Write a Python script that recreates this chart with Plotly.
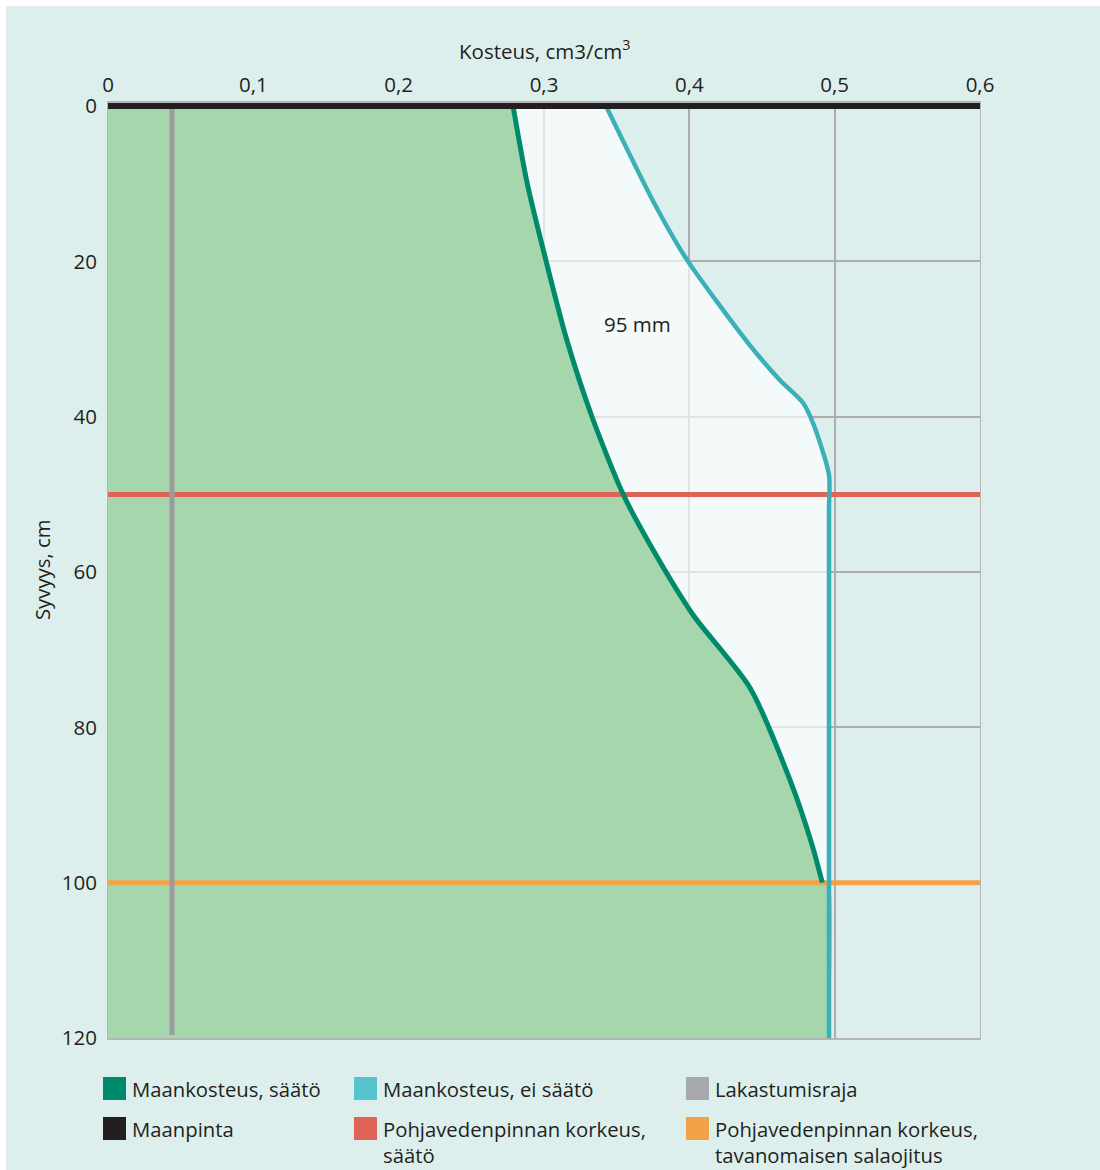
import plotly.graph_objects as go

# ---------------- data ----------------
green_x = [0.2787, 0.2885, 0.3015, 0.3155, 0.333, 0.3545, 0.3743, 0.4025, 0.4417, 0.4693, 0.4844, 0.4915]
green_d = [0, 10, 20, 30, 40, 50, 56.9, 65.5, 74.9, 86.8, 95.1, 100]

blue_x = [0.3427, 0.3764, 0.3984, 0.4417, 0.4624, 0.4782, 0.4855, 0.4961, 0.4961, 0.4961]
blue_d = [0, 12.7, 19.8, 30.8, 35.3, 38.2, 41.0, 47.5, 52, 120]

wilting_x = 0.044
gw_regulated = 50
gw_conventional = 100
x_span = [0, 0.6]
depth_span = [0, 120]

x_ticks = [0, 0.1, 0.2, 0.3, 0.4, 0.5, 0.6]
x_ticktext = ["0", "0,1", "0,2", "0,3", "0,4", "0,5", "0,6"]
y_ticks = [0, 20, 40, 60, 80, 100, 120]

legend_items = [
    ("Maankosteus, säätö", "#008a6c"),
    ("Maankosteus, ei säätö", "#56c3cd"),
    ("Lakastumisraja", "#a7a8ab"),
    ("Maanpinta", "#231f20"),
    ("Pohjavedenpinnan korkeus,<br>säätö", "#e06455"),
    ("Pohjavedenpinnan korkeus,<br>tavanomaisen salaojitus", "#f4a248"),
]

# ---------------- styles ----------------
FONT = "Open Sans"
TXT = "#231f20"
MINT = "#ddefec"
W, H = 1100, 1170
L, R, T, B = 108, 120, 103, 132
PW, PH = W - L - R, H - T - B
SMOOTH = 0.7

def px_x(px):
    return (px - L) / PW

def px_y(py):
    return (H - B - py) / PH

fig = go.Figure()

# white area (between curves): blue curve filled to x=0, translucent white
fig.add_trace(go.Scatter(x=blue_x, y=blue_d, mode="lines",
                         line=dict(width=0, color="rgba(0,0,0,0)", shape="spline", smoothing=SMOOTH),
                         fill="tozerox", fillcolor="rgba(255,255,255,0.66)", showlegend=False, hoverinfo="skip"))

# green area: green curve until 100 cm, then follows the blue line down to 120 cm
fill_x = green_x + [blue_x[-1], blue_x[-1]]
fill_d = green_d + [green_d[-1], depth_span[1]]
fig.add_trace(go.Scatter(x=fill_x, y=fill_d, mode="lines",
                         line=dict(width=0, color="rgba(0,0,0,0)", shape="spline", smoothing=SMOOTH),
                         fill="tozerox", fillcolor="#a6d6ac", showlegend=False, hoverinfo="skip"))

# ground-water lines
fig.add_trace(go.Scatter(x=x_span, y=[gw_regulated] * 2, mode="lines",
                         line=dict(color="#e06455", width=5), showlegend=False, hoverinfo="skip"))
fig.add_trace(go.Scatter(x=x_span, y=[gw_conventional] * 2, mode="lines",
                         line=dict(color="#f4a248", width=5), showlegend=False, hoverinfo="skip"))

# moisture lines
fig.add_trace(go.Scatter(x=blue_x, y=blue_d, mode="lines",
                         line=dict(color="#3bb0b8", width=4.5, shape="spline", smoothing=SMOOTH),
                         showlegend=False, hoverinfo="skip"))
fig.add_trace(go.Scatter(x=green_x, y=green_d, mode="lines",
                         line=dict(color="#008a6c", width=5, shape="spline", smoothing=SMOOTH),
                         showlegend=False, hoverinfo="skip"))

# wilting point
fig.add_trace(go.Scatter(x=[wilting_x] * 2, y=[0, 119.6], mode="lines",
                         line=dict(color="#9b9b9f", width=5), showlegend=False, hoverinfo="skip"))

# ground surface
fig.add_trace(go.Scatter(x=x_span, y=[0, 0], mode="lines",
                         line=dict(color="#231f20", width=6), showlegend=False, hoverinfo="skip"))

shapes = [
    dict(type="rect", xref="paper", yref="paper", x0=px_x(6), x1=px_x(W + 5), y0=px_y(H + 5), y1=px_y(6),
         fillcolor=MINT, line=dict(width=0), layer="below"),
]
annotations = [
    dict(text="Kosteus, cm3/cm<sup>3</sup>", xref="paper", yref="paper", x=0.5, y=px_y(50),
         showarrow=False, font=dict(family=FONT, size=20.5, color=TXT), xanchor="center", yanchor="middle"),
    dict(text="Syvyys, cm", xref="paper", yref="paper", x=px_x(42), y=px_y(570), textangle=-90,
         showarrow=False, font=dict(family=FONT, size=20.3, color=TXT), xanchor="center", yanchor="middle"),
    dict(text="95 mm", x=0.364, y=28.1, xref="x", yref="y", showarrow=False,
         font=dict(family=FONT, size=20.5, color=TXT)),
]

col_x = [103, 354, 686]
row_y = [1088.5, 1128.5]
for i, (label, color) in enumerate(legend_items):
    cx = col_x[i % 3]
    cy = row_y[i // 3]
    shapes.append(dict(type="rect", xref="paper", yref="paper", x0=px_x(cx), x1=px_x(cx + 23),
                       y0=px_y(cy + 11.5), y1=px_y(cy - 11.5), fillcolor=color, line=dict(width=0)))
    annotations.append(dict(text=label, xref="paper", yref="paper", x=px_x(cx + 27), y=px_y(cy - 16),
                            xanchor="left", yanchor="top", align="left", showarrow=False,
                            font=dict(family=FONT, size=20.3, color=TXT)))

fig.update_layout(
    width=W, height=H,
    margin=dict(l=L, r=R, t=T, b=B, pad=0),
    paper_bgcolor="white",
    plot_bgcolor=MINT,
    separators=", ",
    font=dict(family=FONT, color=TXT, size=18),
    shapes=shapes,
    annotations=annotations,
    showlegend=False,
    xaxis=dict(range=x_span, side="top", tickvals=x_ticks, ticktext=x_ticktext,
               showgrid=True, gridcolor="#adadad", gridwidth=1.5, zeroline=False,
               showline=True, linecolor="#b4b4b4", linewidth=1.5, mirror=True,
               ticks="outside", ticklen=1, tickcolor="rgba(0,0,0,0)",
               tickfont=dict(family=FONT, size=20.5, color=TXT)),
    yaxis=dict(range=[depth_span[1], -0.4], tickvals=y_ticks,
               showgrid=True, gridcolor="#adadad", gridwidth=1.5, zeroline=False,
               showline=True, linecolor="#b4b4b4", linewidth=1, mirror=True,
               ticks="outside", ticklen=6, tickcolor="rgba(0,0,0,0)",
               tickfont=dict(family=FONT, size=20.5, color=TXT)),
)

fig.write_html("out.html", config={"displayModeBar": False},
               post_script="document.body.style.margin='0';document.body.style.padding='0';")
